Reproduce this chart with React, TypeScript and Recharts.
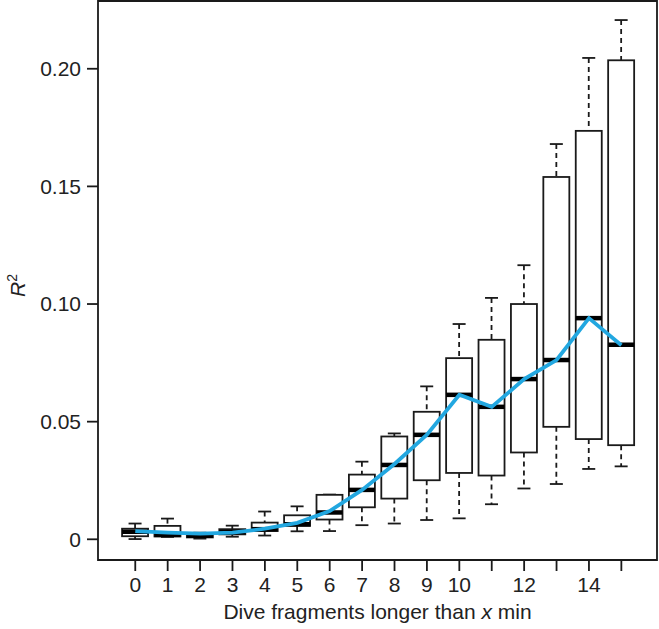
import { ComposedChart, Bar, Line, XAxis, YAxis, ReferenceArea } from 'recharts'

// x positions (dive fragments longer than x min)
const MINUTES = [0, 1, 2, 3, 4, 5, 6, 7, 8, 9, 10, 11, 12, 13, 14, 15]
const X_LABELS = ['0', '1', '2', '3', '4', '5', '6', '7', '8', '9', '10', '', '12', '', '14', '']
const Y_TICKS = [0, 0.05, 0.1, 0.15, 0.2]

// box plot stats for R²
const LOW = [0.0001, 0.001, 0.0003, 0.0011, 0.0016, 0.0034, 0.0035, 0.006, 0.0067, 0.0082, 0.0089, 0.0149, 0.0216, 0.0235, 0.0299, 0.031]
const Q1 = [0.0013, 0.0012, 0.0008, 0.0021, 0.0035, 0.0057, 0.0084, 0.0136, 0.0173, 0.0251, 0.0282, 0.0271, 0.0369, 0.0478, 0.0426, 0.04]
const MEDIAN = [0.0032, 0.0019, 0.0015, 0.0031, 0.0043, 0.0064, 0.0114, 0.021, 0.0316, 0.0444, 0.0614, 0.0563, 0.0681, 0.0762, 0.094, 0.0827]
const Q3 = [0.0045, 0.0057, 0.0027, 0.0043, 0.0071, 0.0102, 0.0189, 0.0275, 0.0437, 0.0542, 0.077, 0.0848, 0.1, 0.154, 0.1736, 0.2036]
const HIGH = [0.0067, 0.0088, 0.0028, 0.0058, 0.0118, 0.014, 0.019, 0.033, 0.045, 0.065, 0.0915, 0.1026, 0.1165, 0.168, 0.2046, 0.2207]
const TREND = [0.0035, 0.0028, 0.0024, 0.0028, 0.0045, 0.007, 0.012, 0.021, 0.032, 0.0445, 0.0614, 0.0563, 0.0681, 0.0762, 0.094, 0.0825]

const X_DOMAIN: [number, number] = [-1.15, 16.1]
const Y_DOMAIN: [number, number] = [-0.0088, 0.2288]

const data = MINUTES.map((m, i) => ({
  x: m,
  range: [LOW[i], HIGH[i]],
  q1: Q1[i],
  med: MEDIAN[i],
  q3: Q3[i],
  trend: TREND[i],
}))

const INK = '#1a1a1a'
const FONT = '"Liberation Sans", Arial, sans-serif'
const FS = 21
const BOX_W = 26

function BoxShape(props: any) {
  const { x, y, width, height, payload } = props
  const [lo, hi] = payload.range
  // range bar spans lo..hi, so map the other stats linearly inside it
  const py = (v: number) => (hi === lo ? y : y + (height * (hi - v)) / (hi - lo))
  const cx = x + width / 2
  const left = cx - BOX_W / 2
  const yq3 = py(payload.q3)
  const yq1 = py(payload.q1)
  const ym = py(payload.med)
  const cap = 6.5
  return (
    <g>
      <line x1={cx} x2={cx} y1={py(hi)} y2={yq3} stroke={INK} strokeWidth={1.8} strokeDasharray="5 4" />
      <line x1={cx} x2={cx} y1={yq1} y2={py(lo)} stroke={INK} strokeWidth={1.8} strokeDasharray="5 4" />
      <line x1={cx - cap} x2={cx + cap} y1={py(hi)} y2={py(hi)} stroke={INK} strokeWidth={1.8} />
      <line x1={cx - cap} x2={cx + cap} y1={py(lo)} y2={py(lo)} stroke={INK} strokeWidth={1.8} />
      <rect x={left} y={yq3} width={BOX_W} height={Math.max(yq1 - yq3, 0.5)} fill="#fff" stroke={INK} strokeWidth={1.8} />
      <line x1={left} x2={left + BOX_W} y1={ym} y2={ym} stroke="#000" strokeWidth={4.5} />
    </g>
  )
}

function XTitle(props: any) {
  const { viewBox } = props
  const cx = viewBox.x + viewBox.width / 2
  return (
    <text x={cx} y={viewBox.y + 59} textAnchor="middle" fontSize={FS} fill="#222" fontFamily={FONT}>
      Dive fragments longer than <tspan fontStyle="italic">x</tspan> min
    </text>
  )
}

function YTitle(props: any) {
  const { viewBox } = props
  const cy = viewBox.y + viewBox.height / 2 + 5
  const tx = 25
  return (
    <text x={tx} y={cy} textAnchor="middle" fontSize={FS} fill="#222" fontFamily={FONT} transform={`rotate(-90, ${tx}, ${cy})`}>
      <tspan fontStyle="italic">R</tspan>
      <tspan fontSize={14} dy={-8}>2</tspan>
    </text>
  )
}

export default function App() {
  return (
    <div style={{ width: 659, height: 629, background: '#fff' }}>
      <style>{'body{margin:0}'}</style>
      <ComposedChart width={659} height={629} data={data} margin={{ top: 1, right: 2, bottom: 0, left: 0 }}>
        <XAxis
          dataKey="x"
          type="number"
          domain={X_DOMAIN}
          allowDataOverflow
          ticks={MINUTES}
          interval={0}
          tickFormatter={(v: number) => X_LABELS[MINUTES.indexOf(v)] ?? ''}
          axisLine={false}
          tickLine={{ stroke: INK, strokeWidth: 1.8 }}
          tickSize={11}
          tickMargin={6}
          height={69}
          tick={{ fill: '#222', fontSize: FS, fontFamily: FONT }}
          label={<XTitle />}
        />
        <YAxis
          type="number"
          domain={Y_DOMAIN}
          allowDataOverflow
          ticks={Y_TICKS}
          interval={0}
          tickFormatter={(v: number) => (v === 0 ? '0' : v.toFixed(2))}
          axisLine={false}
          tickLine={{ stroke: INK, strokeWidth: 1.8 }}
          tickSize={11}
          tickMargin={6}
          width={98}
          tick={{ fill: '#222', fontSize: FS, fontFamily: FONT }}
          label={<YTitle />}
        />
        <ReferenceArea
          x1={X_DOMAIN[0]}
          x2={X_DOMAIN[1]}
          y1={Y_DOMAIN[0]}
          y2={Y_DOMAIN[1]}
          fill="none"
          stroke={INK}
          strokeWidth={1.8}
          ifOverflow="visible"
        />
        <Bar dataKey="range" barSize={BOX_W} shape={<BoxShape />} isAnimationActive={false} />
        <Line dataKey="trend" type="linear" stroke="#22a7e0" strokeWidth={3.8} dot={false} isAnimationActive={false} />
      </ComposedChart>
    </div>
  )
}
